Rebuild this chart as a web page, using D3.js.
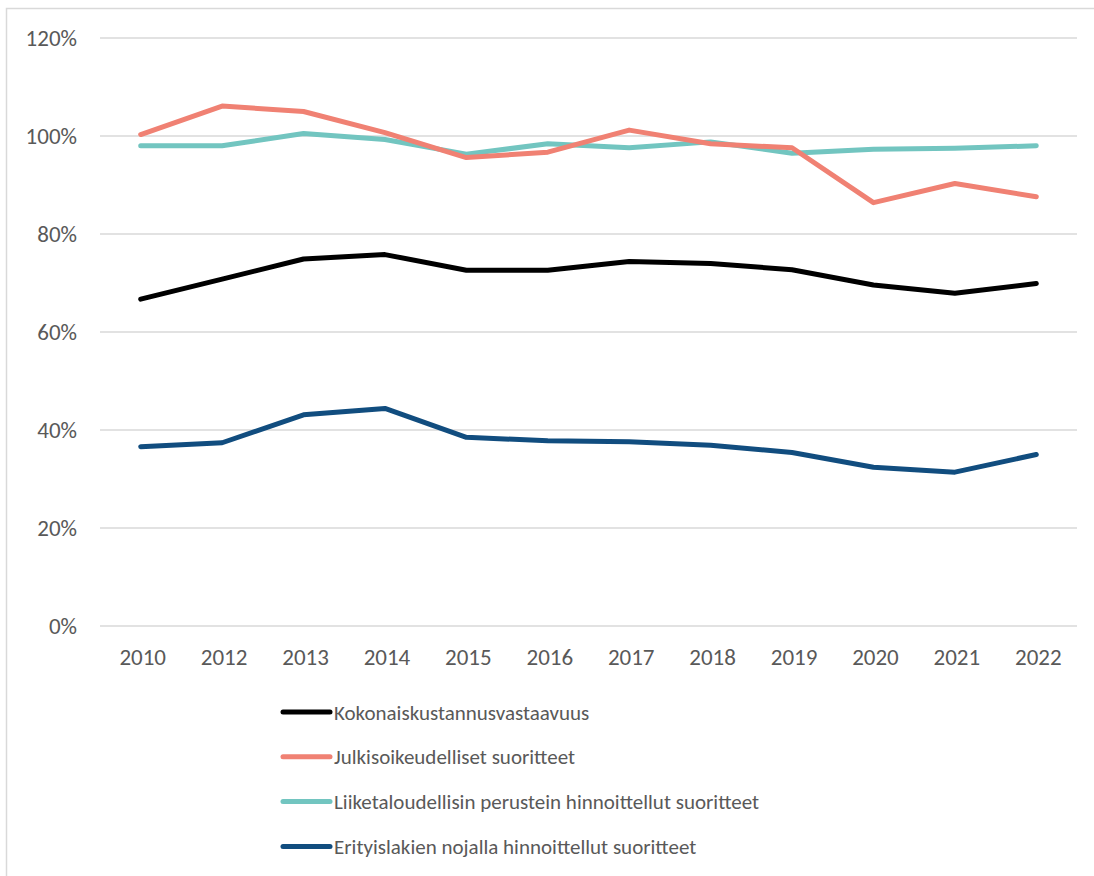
<html>
  <head>
    <meta charset="utf-8"/>
    <style>
      body {
        margin: 0;
        background: white;
      }
      text {
        font-family: Carlito, Calibri, Lato, sans-serif;
        fill: #595959;
      }
    </style>
    <script src="https://d3js.org/d3.v7.min.js"></script>
  </head>
  <body>
    <script>
    var width = 1094, height = 876;

    // data
    var years = ["2010", "2012", "2013", "2014", "2015", "2016", "2017", "2018", "2019", "2020", "2021", "2022"];
    var yTicks = [0, 20, 40, 60, 80, 100, 120];
    var kokonais = [66.7, 70.8, 74.9, 75.8, 72.6, 72.6, 74.4, 74.0, 72.7, 69.6, 67.9, 69.9];
    var julkis = [100.3, 106.1, 105.0, 100.7, 95.6, 96.7, 101.2, 98.4, 97.6, 86.4, 90.3, 87.6];
    var liiketal = [98.0, 98.0, 100.5, 99.3, 96.3, 98.4, 97.6, 98.8, 96.5, 97.3, 97.5, 98.0];
    var erityis = [36.6, 37.4, 43.1, 44.4, 38.5, 37.8, 37.6, 36.9, 35.4, 32.4, 31.4, 35.0];

    var series = [
      {name: "Kokonaiskustannusvastaavuus", values: kokonais, color: "#000000"},
      {name: "Julkisoikeudelliset suoritteet", values: julkis, color: "#f08173"},
      {name: "Liiketaloudellisin perustein hinnoittellut suoritteet", values: liiketal, color: "#72c5c0"},
      {name: "Erityislakien nojalla hinnoittellut suoritteet", values: erityis, color: "#114d7f"}
    ];
    // salmon sits over teal in the picture
    var drawOrder = [2, 1, 0, 3];

    var svg = d3.select("body").append("svg")
                .attr("width", width).attr("height", height);

    // outer chart border
    svg.append("rect")
       .attr("x", 6.5).attr("y", 8.5)
       .attr("width", width + 10).attr("height", height + 10)
       .attr("fill", "none").attr("stroke", "#d9d9d9").attr("stroke-width", 1.5);

    var x = d3.scaleBand().domain(years).range([100, 1077]);
    var y = d3.scaleLinear().domain([0, 120]).range([626, 38]);

    // grid
    svg.append("g").selectAll("line")
       .data(yTicks).enter().append("line")
       .attr("x1", 100).attr("x2", 1077)
       .attr("y1", d => y(d)).attr("y2", d => y(d))
       .attr("stroke", "#d9d9d9").attr("stroke-width", 1.5);

    // y labels
    svg.append("g").selectAll("text")
       .data(yTicks).enter().append("text")
       .attr("x", 77).attr("y", d => y(d) + 7.5)
       .attr("text-anchor", "end")
       .style("font-size", "23px")
       .text(d => d + "%");

    // x labels
    svg.append("g").selectAll("text")
       .data(years).enter().append("text")
       .attr("x", d => x(d) + x.bandwidth() / 2 + 2)
       .attr("y", 665)
       .attr("text-anchor", "middle")
       .style("font-size", "23px")
       .text(d => d);

    var line = d3.line()
                 .x((d, i) => x(years[i]) + x.bandwidth() / 2)
                 .y(d => y(d));

    svg.append("g").selectAll("path")
       .data(drawOrder.map(i => series[i])).enter().append("path")
       .attr("d", d => line(d.values))
       .attr("fill", "none")
       .attr("stroke", d => d.color)
       .attr("stroke-width", 5)
       .attr("stroke-linecap", "round")
       .attr("stroke-linejoin", "round");

    // legend
    var legend = svg.append("g").selectAll("g")
                    .data(series).enter().append("g")
                    .attr("transform", (d, i) => "translate(283," + (712 + i * 44.8) + ")");
    legend.append("line")
          .attr("x1", 0).attr("x2", 47)
          .attr("stroke", d => d.color)
          .attr("stroke-width", 5)
          .attr("stroke-linecap", "round");
    legend.append("text")
          .attr("x", 51).attr("y", 7.5)
          .style("font-size", "21px")
          .text(d => d.name);
    </script>
  </body>
</html>
